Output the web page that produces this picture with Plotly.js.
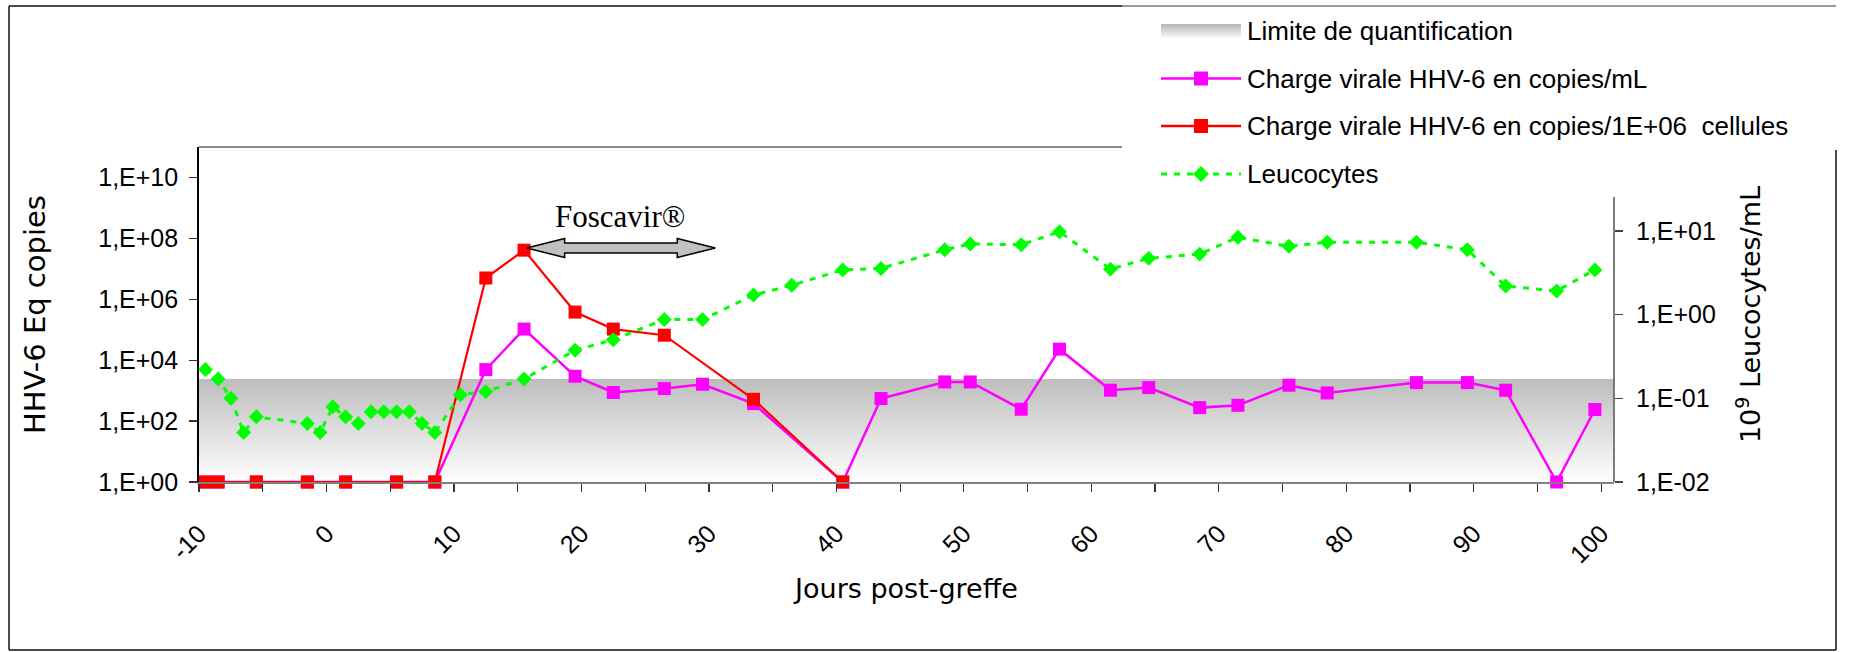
<!DOCTYPE html>
<html><head><meta charset="utf-8">
<script src="https://cdn.plot.ly/plotly-3.0.1.min.js"></script>
<style>html,body{margin:0;padding:0;background:#fff;}#chart{width:1854px;height:652px;}</style>
</head><body><div id="chart"></div>
<script>
// ---------- data ----------
const magDays = [-9.5,-8.5,-5.5,-1.5,1.5,5.5,8.5,12.5,15.5,19.5,22.5,26.5,29.5,33.5,40.5,43.5,48.5,50.5,54.5,57.5,61.5,64.5,68.5,71.5,75.5,78.5,85.5,89.5,92.5,96.5,99.5];
const magValues = [1,1,1,1,1,1,1,4900,105000,2970,870,1170,1620,376,1,550,1930,1930,245,23000,1030,1260,277,330,1510,840,1840,1840,1030,1,240];

const redDays = [-9.5,-8.5,-5.5,-1.5,1.5,5.5,8.5,12.5,15.5,19.5,22.5,26.5,33.5,40.5];
const redValues = [1,1,1,1,1,1,1,5.0e6,4.1e7,3.8e5,1.05e5,6.6e4,520,1];

const leucoDays = [-9.5,-8.5,-7.5,-6.5,-5.5,-1.5,-0.5,0.5,1.5,2.5,3.5,4.5,5.5,6.5,7.5,8.5,10.5,12.5,15.5,19.5,22.5,26.5,29.5,33.5,36.5,40.5,43.5,48.5,50.5,54.5,57.5,61.5,64.5,68.5,71.5,75.5,78.5,85.5,89.5,92.5,96.5,99.5];
const leucoValues = [0.22,0.17,0.10,0.039,0.060,0.050,0.039,0.079,0.060,0.050,0.069,0.069,0.069,0.069,0.050,0.039,0.11,0.12,0.17,0.374,0.50,0.87,0.87,1.71,2.23,3.41,3.55,5.93,6.95,6.81,9.75,3.48,4.68,5.26,8.36,6.52,7.28,7.28,5.93,2.19,1.91,3.41];

const limitValue = 2400;           // limite de quantification
const xRange = [-10, 101];
const foscavirDays = [15.7, 30.5];  // Foscavir treatment period

const xTickVals = [-10,0,10,20,30,40,50,60,70,80,90,100];
const xTickText = ['-10','0','10','20','30','40','50','60','70','80','90','100'];
const xMinorTickVals = [-5,5,15,25,35,45,55,65,75,85,95];
const yLeftTickVals = [1,1e2,1e4,1e6,1e8,1e10];
const yLeftTickText = ['1,E+00','1,E+02','1,E+04','1,E+06','1,E+08','1,E+10'];
const yRightTickVals = [0.01,0.1,1,10];
const yRightTickText = ['1,E-02','1,E-01','1,E+00','1,E+01'];

const legendNames = ['Limite de quantification','Charge virale HHV-6 en copies/mL','Charge virale HHV-6 en copies/1E+06\u00A0 cellules','Leucocytes'];

// ---------- styles ----------
const MAG = '#ff00ff', RED = '#ff0000', GREEN = '#00ff00';
const SANS = 'Liberation Sans, Arial, sans-serif';
const TITLEF = 'DejaVu Sans, Verdana, sans-serif';
const W = 1854, H = 652;
const PL = 199, PR = 1614, PT = 147, PB = 482;
const px = v => (v - PL) / (PR - PL);
const py = v => (PB - v) / (PB - PT);

const traces = [
  {x:[xRange[0],xRange[1],xRange[1],xRange[0]], y:[1,1,limitValue,limitValue], mode:'none', fill:'toself',
   fillgradient:{type:'vertical', colorscale:[[0,'#ffffff'],[1,'#bdbdbd']]}, hoverinfo:'skip', showlegend:false},
  {x:magDays, y:magValues, mode:'lines+markers', name:legendNames[1], line:{color:MAG,width:2.5},
   marker:{symbol:'square',size:13,color:MAG}, cliponaxis:false},
  {x:redDays, y:redValues, mode:'lines+markers', name:legendNames[2], line:{color:RED,width:2.2},
   marker:{symbol:'square',size:13,color:RED}, cliponaxis:false},
  {x:leucoDays, y:leucoValues, yaxis:'y2', mode:'lines+markers', name:legendNames[3],
   line:{color:GREEN,width:3,dash:'6px,7px'}, marker:{symbol:'diamond',size:11.5,color:GREEN}, cliponaxis:false}
];

const shapes = [];
const line = (x0,y0,x1,y1,color,width,dash) => shapes.push({type:'line',xref:'paper',yref:'paper',
  x0:px(x0),y0:py(y0),x1:px(x1),y1:py(y1),line:{color:color,width:width,dash:dash||'solid'},layer:'above'});
// outer frame
line(9,6,9,650,'#111',1.5);
line(9,6,1122,6,'#111',1.5);
line(1122,6,1836,6,'#777',1.5);
line(1836,150,1836,650,'#111',1.5);
line(9,650,1836,650,'#111',1.5);
// plot top border & right axis
line(PL,PT,1122,PT,'#8a8a8a',2);
line(PR,197,PR,PB,'#555',1.5);

// Foscavir arrow
(function(){
  const x0 = foscavirDays[0], x1 = foscavirDays[1];
  const headLen = 38/((PR-PL)/(xRange[1]-xRange[0]));
  const yc = 248, hs = 5, hh = 9.5;
  const a = x0 + headLen, b = x1 - headLen;
  const p = (x,y) => x + ',' + py(y);
  const path = 'M' + p(x0,yc) + ' L' + p(a,yc-hh) + ' L' + p(a,yc-hs) + ' L' + p(b,yc-hs) + ' L' + p(b,yc-hh) +
    ' L' + p(x1,yc) + ' L' + p(b,yc+hh) + ' L' + p(b,yc+hs) + ' L' + p(a,yc+hs) + ' L' + p(a,yc+hh) + ' Z';
  shapes.push({type:'path',xref:'x',yref:'paper',path:path,fillcolor:'#c0c0c0',line:{color:'#000',width:1.5},layer:'above'});
})();

// legend
const legRows = [31, 78.5, 126, 174];
const LX0 = 1161, LX1 = 1241, LXC = 1201;
const annotations = [];
const greys = ['#bababa','#c4c4c4','#cecece','#d8d8d8','#e2e2e2','#ececec','#f6f6f6'];
greys.forEach((c,i)=>{
  shapes.push({type:'rect',xref:'paper',yref:'paper',x0:px(LX0),x1:px(LX1),y0:py(24+i*2),y1:py(26+i*2),
    fillcolor:c,line:{width:0},layer:'above'});
});
[[MAG,1],[RED,2]].forEach(([c,i])=>{
  line(LX0,legRows[i],LX1,legRows[i],c,2.5);
  shapes.push({type:'rect',xref:'paper',yref:'paper',x0:px(LXC-7),x1:px(LXC+7),y0:py(legRows[i]-7),y1:py(legRows[i]+7),
    fillcolor:c,line:{width:0},layer:'above'});
});
line(LX0,legRows[3],LX1,legRows[3],GREEN,3,'6px,7px');
(function(){
  const yc = legRows[3], d = 8;
  shapes.push({type:'path',xref:'paper',yref:'paper',
    path:'M'+px(LXC)+','+py(yc-d)+' L'+px(LXC+d)+','+py(yc)+' L'+px(LXC)+','+py(yc+d)+' L'+px(LXC-d)+','+py(yc)+' Z',
    fillcolor:GREEN,line:{width:0},layer:'above'});
})();
legendNames.forEach((n,i)=>{
  annotations.push({xref:'paper',yref:'paper',x:px(1245),y:py(legRows[i]),xanchor:'left',yanchor:'middle',
    text:n,showarrow:false,font:{family:SANS,size:26,color:'#000'}});
});
annotations.push({xref:'x',yref:'paper',x:(foscavirDays[0]+foscavirDays[1])/2 - 0.1,y:py(216),xanchor:'center',yanchor:'middle',
  text:'Foscavir®',showarrow:false,font:{family:'Liberation Serif, Times New Roman, serif',size:31,color:'#000'}});

const tickFont = {family:SANS,size:25,color:'#000'};
const layout = {
  width:W, height:H, margin:{l:PL,r:W-PR,t:PT,b:H-PB,pad:0},
  paper_bgcolor:'#fff', plot_bgcolor:'#fff', showlegend:false,
  xaxis:{range:xRange, tickmode:'array', tickvals:xTickVals, ticktext:xTickText, tickangle:-45,
    ticks:'outside', ticklen:8, tickcolor:'#333', tickwidth:1.2, tickfont:tickFont, ticklabelstandoff:17,
    minor:{tickmode:'array', tickvals:xMinorTickVals, ticks:'outside', ticklen:8, tickcolor:'#333', tickwidth:1.2, showgrid:false},
    showline:true, linecolor:'#808080', linewidth:2, showgrid:false, zeroline:false, automargin:false,
    title:{text:'Jours post-greffe', font:{family:TITLEF,size:27,color:'#000'}, standoff:12}},
  yaxis:{type:'log', range:[0,11], tickmode:'array', tickvals:yLeftTickVals, ticktext:yLeftTickText,
    ticks:'outside', ticklen:8, tickcolor:'#333', tickwidth:1.2, tickfont:tickFont, ticklabelstandoff:6,
    showline:true, linecolor:'#000', linewidth:1.8, showgrid:false, zeroline:false, automargin:false,
    title:{text:'HHV-6 Eq copies', font:{family:TITLEF,size:29,color:'#000'}, standoff:44}},
  yaxis2:{type:'log', range:[-2,2], overlaying:'y', side:'right', anchor:'x', tickmode:'array',
    tickvals:yRightTickVals, ticktext:yRightTickText, ticks:'outside', ticklen:8, tickcolor:'#444', tickwidth:1.5,
    tickfont:tickFont, ticklabelstandoff:8, showline:false, showgrid:false, zeroline:false, automargin:false,
    title:{text:'10<sup>9</sup> Leucocytes/mL', font:{family:TITLEF,size:27,color:'#000'}, standoff:26}},
  yaxis3:{type:'log', range:[-2,2], overlaying:'y', side:'right', anchor:'x', tickmode:'array',
    tickvals:yRightTickVals, ticks:'inside', ticklen:8, tickcolor:'#444', tickwidth:1.5,
    showticklabels:false, showline:false, showgrid:false, zeroline:false, automargin:false},
  shapes:shapes, annotations:annotations
};
Plotly.newPlot('chart', traces, layout, {staticPlot:true});
</script></body></html>
